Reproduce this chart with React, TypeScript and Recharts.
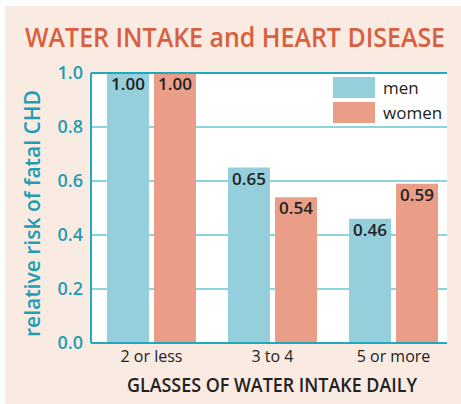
import {
  BarChart, Bar, XAxis, YAxis, CartesianGrid, LabelList, Legend, ReferenceLine,
} from "recharts";

const categories = ["2 or less", "3 to 4", "5 or more"];
const menRisk = [1.0, 0.65, 0.46];
const womenRisk = [1.0, 0.54, 0.59];
const yTicks = [0, 0.2, 0.4, 0.6, 0.8, 1.0];

const MEN = "#95cfdb";
const WOMEN = "#eb9e87";
const TEAL = "#1e9db3";
const BORDER = "#22a8bd";
const GRID = "#66c6d2";
const CREAM = "#f9ebe2";
const DARK = "#222222";
const FONT = "'Open Sans', sans-serif";

const data = categories.map((c, i) => ({ group: c, men: menRisk[i], women: womenRisk[i] }));

const renderLegend = () => (
  <div style={{ display: "flex", flexDirection: "column", gap: 4, fontFamily: FONT }}>
    {[{ name: "men", color: MEN }, { name: "women", color: WOMEN }].map((it) => (
      <div key={it.name} style={{ display: "flex", alignItems: "center", height: 21 }}>
        <span style={{ width: 42, height: 21, background: it.color, display: "inline-block" }} />
        <span style={{ marginLeft: 8, fontSize: 17, fontWeight: 500, color: DARK }}>{it.name}</span>
      </div>
    ))}
  </div>
);

export default function App() {
  return (
    <div style={{ position: "absolute", left: 0, top: 0, width: 461, height: 404, background: "#fff" }}>
      <div style={{ position: "absolute", left: 5, top: 6, width: 456, height: 398, background: CREAM }}>
        <svg width={456} height={70} style={{ position: "absolute", left: 0, top: 0 }}>
          <text
            x={0}
            y={0}
            transform="translate(230 41) scale(1 1.12)"
            textAnchor="middle"
            textLength={420}
            lengthAdjust="spacingAndGlyphs"
            fontFamily={FONT}
            fontWeight={600}
            fontSize={24}
            fill="#d9603f"
          >
            WATER INTAKE and HEART DISEASE
          </text>
        </svg>
        <BarChart
          width={456}
          height={398}
          data={data}
          barSize={42}
          barGap={5}
          margin={{ top: 67, right: 14, left: 0, bottom: 0 }}
        >
          <CartesianGrid vertical={false} stroke={GRID} strokeWidth={1.5} fill="#ffffff" fillOpacity={1} />
          <XAxis
            dataKey="group"
            height={61}
            padding={{ left: 0, right: -7 }}
            tickLine={false}
            axisLine={{ stroke: BORDER, strokeWidth: 2 }}
            tick={{ fill: DARK, fontSize: 16, fontWeight: 500, fontFamily: FONT }}
            label={{
              content: () => (
                <text
                  x={267}
                  y={386}
                  textAnchor="middle"
                  textLength={290}
                  lengthAdjust="spacingAndGlyphs"
                  fontFamily={FONT}
                  fontWeight={600}
                  fontSize={19}
                  fill={DARK}
                >
                  GLASSES OF WATER INTAKE DAILY
                </text>
              ),
            }}
          />
          <YAxis
            width={86}
            domain={[0, 1]}
            ticks={yTicks}
            tickFormatter={(v: number) => v.toFixed(1)}
            tickLine={false}
            axisLine={{ stroke: BORDER, strokeWidth: 2 }}
            tick={{ fill: TEAL, fontSize: 18, fontWeight: 600, fontFamily: FONT }}
            label={{
              content: () => (
                <text
                  x={35}
                  y={207.5}
                  transform="rotate(-90 35 207.5)"
                  textAnchor="middle"
                  textLength={247}
                  lengthAdjust="spacingAndGlyphs"
                  fontFamily={FONT}
                  fontWeight={600}
                  fontSize={21}
                  fill={TEAL}
                >
                  relative risk of fatal CHD
                </text>
              ),
            }}
          />
          <YAxis
            yAxisId="right"
            orientation="right"
            width={0}
            domain={[0, 1]}
            tick={false}
            tickLine={false}
            axisLine={{ stroke: BORDER, strokeWidth: 2 }}
          />
          <Legend
            layout="horizontal"
            verticalAlign="middle"
            align="center"
            content={renderLegend}
            wrapperStyle={{ top: 71, left: 328, width: 120 }}
          />
          <Bar dataKey="men" fill={MEN} isAnimationActive={false}>
            <LabelList
              dataKey="men"
              position="insideTop"
              offset={5}
              formatter={(v: number) => v.toFixed(2)}
              style={{ fill: DARK, fontSize: 17, fontWeight: 600, fontFamily: FONT }}
            />
          </Bar>
          <Bar dataKey="women" fill={WOMEN} isAnimationActive={false}>
            <LabelList
              dataKey="women"
              position="insideTop"
              offset={5}
              formatter={(v: number) => v.toFixed(2)}
              style={{ fill: DARK, fontSize: 17, fontWeight: 600, fontFamily: FONT }}
            />
          </Bar>
          <ReferenceLine y={1} stroke={BORDER} strokeWidth={2} />
        </BarChart>
      </div>
    </div>
  );
}
